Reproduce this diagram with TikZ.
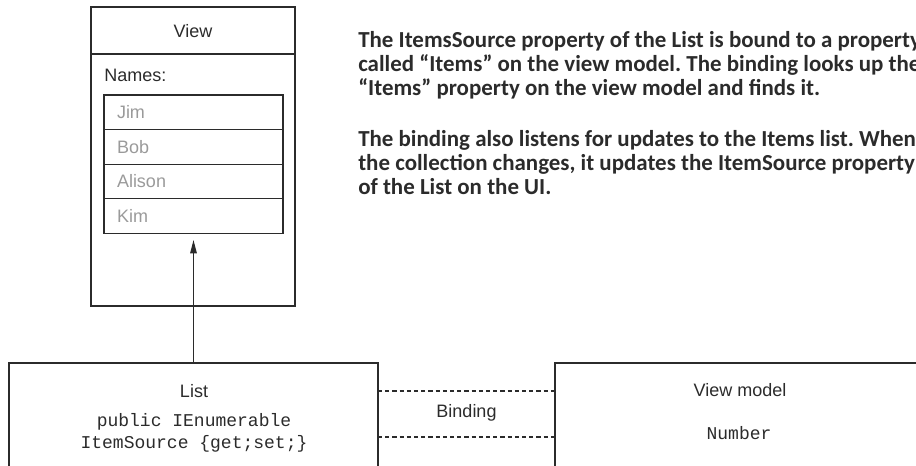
\documentclass[tikz,border=0pt]{standalone}
\usepackage{fontspec}
\setmainfont{Liberation Sans}
\setmonofont{Liberation Mono}
\newfontfamily\notefont{Carlito}
\usetikzlibrary{positioning,arrows.meta,calc}
\definecolor{ink}{HTML}{2B2B2B}
\definecolor{namegray}{HTML}{9A9A9A}

\begin{document}
\begin{tikzpicture}[
        x=0.75pt, y=-0.75pt,
        font=\fontsize{13.5}{16}\selectfont,
        box/.style={draw=ink, line width=0.8pt, inner sep=0pt, outer sep=0pt},
        namecell/.style={box, minimum width=134.25pt, minimum height=25.9pt,
                         text width=114.75pt, align=left, text=namegray},
        title/.style={text=ink},
        code/.style={font=\fontsize{13.5}{16}\selectfont\ttfamily, text=ink},
        note/.style={font=\fontsize{17.2}{18}\selectfont\notefont\bfseries\frenchspacing, text=ink,
                     anchor=north west, align=left, inner sep=0pt},
        bind/.style={draw=ink, line width=0.8pt, dash pattern=on 3.2pt off 2.2pt},
        arr/.style={draw=ink, line width=0.8pt, -{Triangle[length=10pt,width=5pt]}}
    ]
    \path[use as bounding box, clip] (0,0) rectangle (916,465);

    % View (top left)
    \node[box, minimum width=153pt, minimum height=224.25pt] (view) at (193,156.5) {};
    \node[title] (viewtitle) at (193,31) {View};
    \draw[draw=ink, line width=0.8pt] ($(view.north west)+(0,47)$) -- ($(view.north east)+(0,47)$);
    \node[title, anchor=west, inner sep=0pt] (names) at (104,75) {Names:};
    \node[namecell] (jim) at (193.5,112.25) {Jim};
    \node[namecell, below=0pt of jim] (bob) {Bob};
    \node[namecell, below=0pt of bob] (alison) {Alison};
    \node[namecell, below=0pt of alison] (kim) {Kim};

    % List and view model (bottom)
    \node[box, minimum width=276.75pt, minimum height=87.75pt] (list) at (193.5,421.5) {};
    \node[title] (listtitle) at (194,391) {List};
    \node[code] (listtype) at (194,422) {public IEnumerable};
    \node[code] (listprop) at (194,444) {ItemSource \{get;set;\}};
    \node[box, minimum width=277.5pt, minimum height=87.75pt] (vm) at (740,421.5) {};
    \node[title] (vmtitle) at (740,390) {View model};
    \node[code] (vmnum) at (739,433) {Number};
    \node[title] (binding) at (466.5,413) {Binding};

    \draw[bind] (list.east |- listtitle) -- (vm.west |- listtitle);
    \draw[bind] ($(list.east)+(0,15.5)$) -- ($(vm.west)+(0,15.5)$);
    \draw[arr] (list.north) -- ($(kim.south)+(0,7)$);

    % Notes
    \node[note] (note1) at (358,31) {The ItemsSource property of the List is bound to a property\\
        called “Items” on the view model. The binding looks up the\\
        “Items” property on the view model and finds it.};
    \node[note] (note2) at (358,130) {The binding also listens for updates to the Items list. When\\
        the collection changes, it updates the ItemSource property\\
        of the List on the UI.};
\end{tikzpicture}
\end{document}
